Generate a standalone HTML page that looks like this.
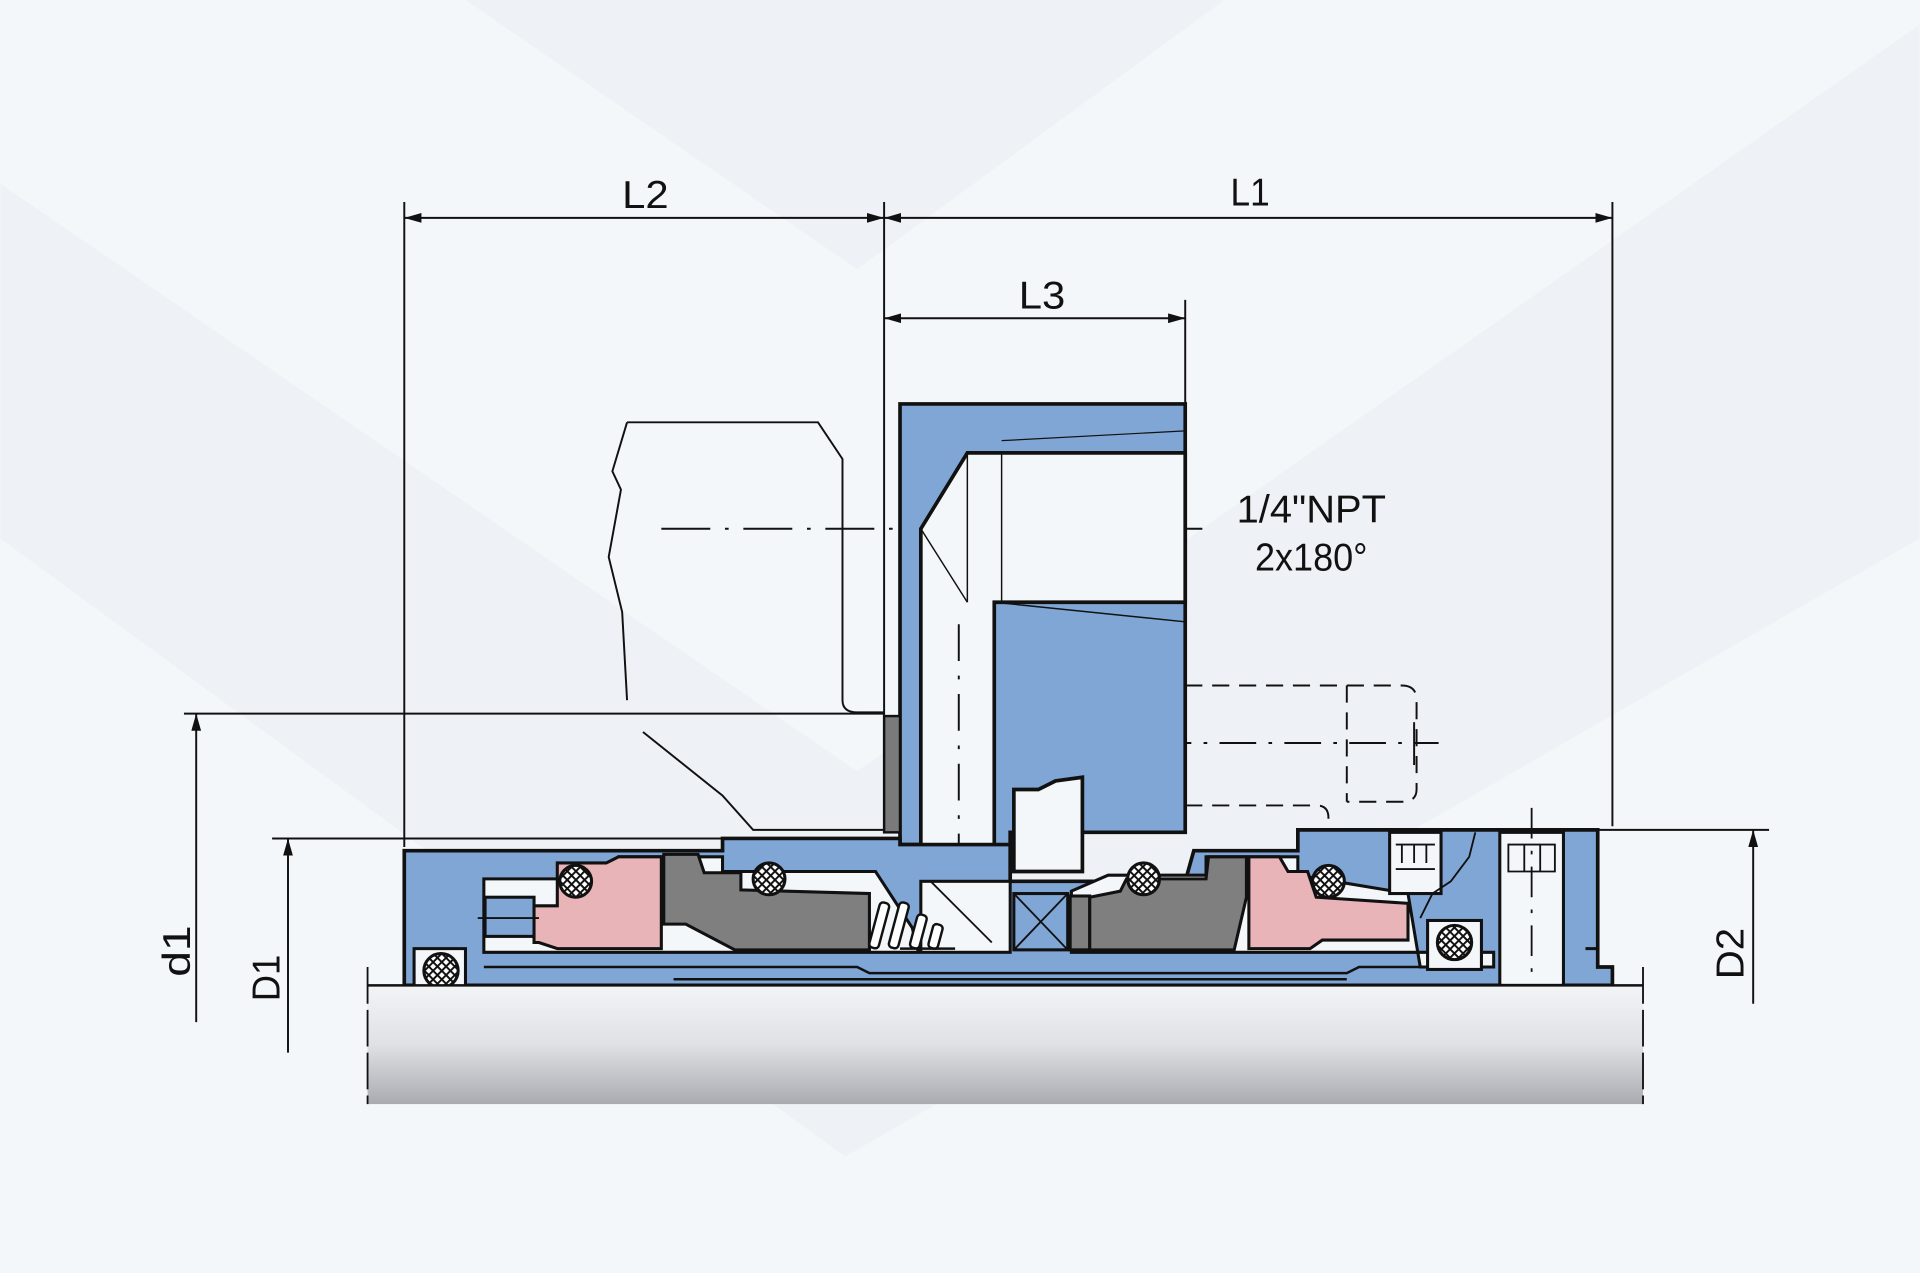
<!DOCTYPE html>
<html><head><meta charset="utf-8"><style>
html,body{margin:0;padding:0;background:#f4f7fa;}
svg{display:block}
text{font-family:"Liberation Sans",sans-serif;fill:#111;}
</style></head><body>
<svg width="1920" height="1273" viewBox="0 0 1568 1040" xmlns="http://www.w3.org/2000/svg">
<defs>
<pattern id="hx" width="5" height="5" patternUnits="userSpaceOnUse" patternTransform="rotate(45)">
<rect width="5" height="5" fill="#fff"/><rect width="5" height="1.6" fill="#111"/><rect width="1.6" height="5" fill="#111"/></pattern>
<linearGradient id="sh" x1="0" y1="0" x2="0" y2="1"><stop offset="0" stop-color="#f2f4f6"/><stop offset="0.5" stop-color="#dfe1e4"/><stop offset="1" stop-color="#a8abb0"/></linearGradient>
<marker id="ar" markerWidth="14" markerHeight="8" refX="14" refY="4" orient="auto-start-reverse" markerUnits="userSpaceOnUse"><path d="M0,0 L14,4 L0,8 z" fill="#111"/></marker>
</defs>
<rect width="1568" height="1040" fill="#f4f7fa"/>
<polygon points="380,0 700,220 1000,0" fill="#eef2f7"/>
<polygon points="0,150 700,630 1568,20 1568,440 690,945 0,440" fill="#eef2f6"/>

<g stroke="#111" fill="none" stroke-width="1.6">
<line x1="330" y1="165" x2="330" y2="692"/>
<line x1="722" y1="165" x2="722" y2="585"/>
<line x1="1317" y1="165" x2="1317" y2="675"/>
<line x1="968" y1="245" x2="968" y2="330"/>
<line x1="330" y1="178" x2="722" y2="178" marker-start="url(#ar)" marker-end="url(#ar)"/>
<line x1="722" y1="178" x2="1317" y2="178" marker-start="url(#ar)" marker-end="url(#ar)"/>
<line x1="722" y1="260" x2="968" y2="260" marker-start="url(#ar)" marker-end="url(#ar)"/>
<line x1="150" y1="583" x2="722" y2="583"/>
<line x1="222" y1="685" x2="722" y2="685"/>
<line x1="160" y1="835" x2="160" y2="583" marker-end="url(#ar)"/>
<line x1="235" y1="860" x2="235" y2="685" marker-end="url(#ar)"/>
<line x1="1305" y1="678" x2="1445" y2="678"/>
<line x1="1432" y1="820" x2="1432" y2="678" marker-end="url(#ar)"/>
<path d="M512,345 L668,345 L688,375 L688,572 Q688,582 700,582 L722,582"/>
<path d="M512,345 L500,385 L507,400 L497,455 L508,500 L512,572"/>
<path d="M525,598 L590,650 L615,678 L722,678"/>
<path d="M968,560 L1145,560 Q1157,560 1157,572 L1157,645 Q1157,655 1145,655 L1100,655 M1100,560 L1100,655 M968,658 L1075,658 Q1085,658 1085,668 L1085,680" stroke-dasharray="14,8"/>
<path d="M890,607 L1175,607" stroke-dasharray="30,10,3,10"/>
<path d="M540,432 L985,432" stroke-dasharray="40,12,3,12"/>
<path d="M1155,590 L1155,625"/>
</g>

<path d="M735,330 L968,330 L968,680 L825,680 L825,720 L752,720 L752,690 L735,690 Z" fill="#80a6d6" stroke="#111" stroke-width="3"/>
<path d="M818,370 L968,370 L968,492 L812,492 L812,720 L752,720 L752,432 L790,370 Z" fill="#f4f7fa" stroke="#111" stroke-width="3"/>
<path d="M812,492 L968,508 M818,370 L818,492 M790,370 L790,492 M752,432 L790,492" stroke="#111" stroke-width="1.2" fill="none"/>
<path d="M818,360 L968,352" stroke="#111" stroke-width="1" fill="none"/>
<path d="M783,510 L783,700" stroke="#111" stroke-width="1.6" stroke-dasharray="30,12,3,12" fill="none"/>
<rect x="722" y="585" width="13" height="95" fill="#7a7a7a" stroke="#111" stroke-width="2"/>
<path d="M828,645 L828,712 L884,712 L884,635 L862,638 L848,645 Z" fill="#f4f7fa" stroke="#111" stroke-width="3"/>

<path d="M330,695 L590,695 L590,685 L735,685 L735,690 L825,690 L825,720 L968,720 L975,695 L1060,695 L1060,678 L1305,678 L1305,790 L1317,790 L1317,805 L330,805 Z" fill="#80a6d6" stroke="#111" stroke-width="3"/>
<path d="M395,718 L495,718 L505,700 L590,700 L590,712 L715,712 L745,758 L750,778 L395,778 Z" fill="#f4f7fa" stroke="#111" stroke-width="2.5"/>
<path d="M875,728 L905,715 L985,715 L985,700 L1060,700 L1060,715 L1150,730 L1160,790 L1220,790 L1220,778 L875,778 Z" fill="#f4f7fa" stroke="#111" stroke-width="2.5"/>
<rect x="752" y="720" width="73" height="58" fill="#f4f7fa" stroke="#111" stroke-width="2.5"/>
<path d="M338,805 L338,775 L380,775 L380,805" fill="#f4f7fa" stroke="#111" stroke-width="2.5"/>
<path d="M395,790 L700,790 L710,795 L1100,795 L1110,790 L1220,790" stroke="#111" stroke-width="2" fill="none"/>
<path d="M550,800 L1100,800" stroke="#111" stroke-width="2" fill="none"/>

<rect x="396" y="733" width="40" height="32" fill="#80a6d6" stroke="#111" stroke-width="2.5"/>
<path d="M436,740 L455,740 L455,705 L495,705 L505,700 L540,700 L540,775 L455,775 L440,770 L436,770 Z" fill="#e8b4b8" stroke="#111" stroke-width="2.5"/>
<line x1="390" y1="750" x2="440" y2="750" stroke="#111" stroke-width="1.5"/>
<path d="M542,698 L570,698 L575,713 L605,713 L605,727 L710,730 L710,776 L600,776 L560,755 L542,755 Z" fill="#7f7f7f" stroke="#111" stroke-width="2.5"/>
<g stroke="#111" stroke-width="2" fill="#fff">
<rect x="714" y="737" width="8" height="38" rx="3" transform="rotate(15 718 756)"/>
<rect x="730" y="737" width="8" height="38" rx="3" transform="rotate(15 734 756)"/>
<rect x="746" y="747" width="8" height="28" rx="3" transform="rotate(15 750 761)"/>
<rect x="760" y="755" width="8" height="20" rx="3" transform="rotate(15 764 765)"/>
</g>
<line x1="735" y1="775" x2="780" y2="775" stroke="#111" stroke-width="2"/>
<path d="M760,720 L810,770" stroke="#111" stroke-width="1.5"/>
<rect x="828" y="730" width="44" height="46" fill="#80a6d6" stroke="#111" stroke-width="2.5"/>
<path d="M828,730 L872,776 M872,730 L828,776" stroke="#111" stroke-width="1.5"/>
<rect x="874" y="732" width="16" height="44" fill="#7f7f7f" stroke="#111" stroke-width="2.5"/>
<path d="M890,733 L915,728 L920,718 L985,718 L987,700 L1018,700 L1018,733 L1008,776 L890,776 Z" fill="#7f7f7f" stroke="#111" stroke-width="2.5"/>
<path d="M1020,700 L1045,700 L1052,712 L1068,712 L1075,733 L1150,738 L1150,768 L1080,768 L1070,775 L1020,775 Z" fill="#e8b4b8" stroke="#111" stroke-width="2.5"/>
<rect x="1166" y="752" width="44" height="40" fill="#f4f7fa" stroke="#111" stroke-width="2.5"/>
<rect x="1135" y="680" width="42" height="50" fill="#f4f7fa" stroke="#111" stroke-width="2.5"/>
<path d="M1140,690 L1172,690 M1145,690 L1145,705 M1155,690 L1155,705 M1165,690 L1165,705 M1140,710 L1172,710" stroke="#111" stroke-width="1.5"/>
<rect x="1225" y="680" width="52" height="125" fill="#f4f7fa" stroke="#111" stroke-width="2.5"/>
<path d="M1232,690 L1270,690 L1270,712 L1232,712 Z M1245,690 L1245,712 M1258,690 L1258,712" stroke="#111" stroke-width="1.5" fill="none"/>
<path d="M1251,660 L1251,820" stroke="#111" stroke-width="1.5" stroke-dasharray="25,10,3,10"/>
<path d="M1160,750 L1170,730 L1185,720 L1200,700 L1205,680" stroke="#111" stroke-width="1.5" fill="none"/>
<path d="M1295,775 L1305,775 L1305,790" stroke="#111" stroke-width="2.5" fill="none"/>
<g fill="url(#hx)" stroke="#111" stroke-width="2.5">
<circle cx="470" cy="720" r="13"/>
<circle cx="628" cy="718" r="13"/>
<circle cx="360" cy="793" r="14"/>
<circle cx="934" cy="718" r="13"/>
<circle cx="1085" cy="720" r="13"/>
<circle cx="1188" cy="770" r="14"/>
</g>

<rect x="300" y="805" width="1042" height="97" fill="url(#sh)"/>
<line x1="300" y1="805" x2="1342" y2="805" stroke="#111" stroke-width="2"/>
<line x1="300" y1="790" x2="300" y2="902" stroke="#111" stroke-width="1.5" stroke-dasharray="30,5"/>
<line x1="1342" y1="790" x2="1342" y2="902" stroke="#111" stroke-width="1.5" stroke-dasharray="30,5"/>

<g font-size="32" font-weight="normal">
<text x="527" y="170" text-anchor="middle" textLength="38" lengthAdjust="spacingAndGlyphs">L2</text>
<text x="1021" y="168" text-anchor="middle" textLength="32" lengthAdjust="spacingAndGlyphs">L1</text>
<text x="851" y="252" text-anchor="middle" textLength="38" lengthAdjust="spacingAndGlyphs">L3</text>
<text x="1010" y="427" textLength="122" lengthAdjust="spacingAndGlyphs">1/4"NPT</text>
<text x="1025" y="466" textLength="92" lengthAdjust="spacingAndGlyphs">2x180°</text>
<text transform="translate(155,798) rotate(-90)" textLength="42" lengthAdjust="spacingAndGlyphs">d1</text>
<text transform="translate(228,818) rotate(-90)" textLength="38" lengthAdjust="spacingAndGlyphs">D1</text>
<text transform="translate(1424,800) rotate(-90)" textLength="42" lengthAdjust="spacingAndGlyphs">D2</text>
</g>
</svg>
</body></html>
